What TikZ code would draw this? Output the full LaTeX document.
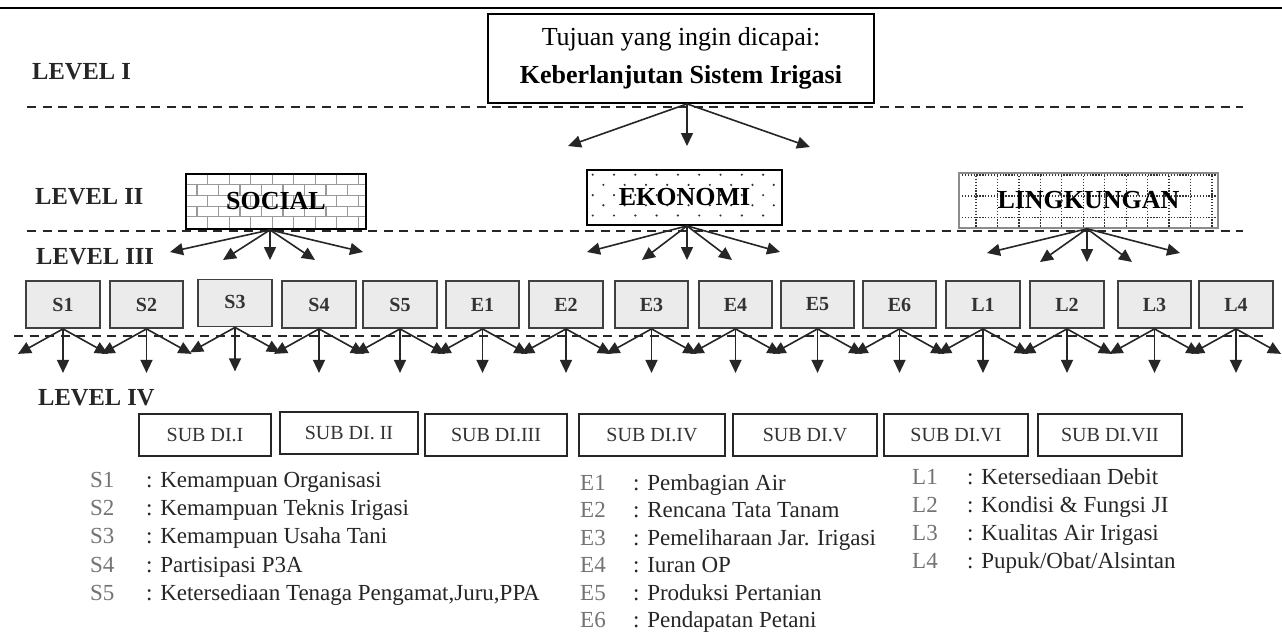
\documentclass[tikz,border=0pt]{standalone}
\usepackage{fontspec}
\setmainfont{Liberation Serif}
\usetikzlibrary{arrows.meta,calc}
\begin{document}
\begin{tikzpicture}[x=1pt,y=-1pt,
  arr/.style={-{Triangle[length=13pt,width=12pt]}, line width=1.6pt, draw=black!85, fill=black!85},
  lvl/.style={anchor=west, font=\fontsize{24.5}{28}\selectfont\bfseries, text=black!85, inner sep=0pt},
  sep/.style={line width=1.8pt, draw=black!85, dash pattern=on 9pt off 6.5pt},
  lvtwo/.style={inner sep=0pt, minimum height=55pt, font=\fontsize{26}{30}\selectfont\bfseries},
  thrbox/.style={draw=black!75, fill=black!8, line width=1.8pt, minimum width=73.5pt, minimum height=47pt, inner sep=0pt, font=\fontsize{20}{24}\selectfont\bfseries, text=black!80},
  subbox/.style={draw=black!85, line width=1.8pt, minimum height=42pt, inner sep=0pt, font=\fontsize{20}{24}\selectfont, text=black!80},
  lgkey/.style={anchor=base west, inner sep=0pt, font=\fontsize{23}{26}\selectfont, text=black!55},
  lgtxt/.style={anchor=base west, inner sep=0pt, font=\fontsize{23}{26}\selectfont, text=black!85}
]
\useasboundingbox (0,0) rectangle (1282,632);
\fill[white] (0,0) rectangle (1282,632);
% top rule
\draw[line width=1.5pt] (0,8) -- (1282,8);

% level labels
\node[lvl] (lv1) at (32,72) {LEVEL I};
\node[lvl] (lv2) at (35,197) {LEVEL II};
\node[lvl] (lv3) at (36,257) {LEVEL III};
\node[lvl] (lv4) at (38,398) {LEVEL IV};

% separators
\draw[sep] (27,107) -- (1243,107);
\draw[sep] (27,231) -- (1243,231);
\draw[sep] (14,336) -- (1265,336);

% goal
\node[draw, line width=1.8pt, fill=white, minimum width=386pt, minimum height=89pt, inner sep=0pt, align=center, font=\fontsize{26}{38}\selectfont] (goal) at (681,58.5) {Tujuan yang ingin dicapai:\\\textbf{Keberlanjutan Sistem Irigasi}};

% ---- patterns of level II boxes ----
% bricks (SOCIAL)
\fill[white] (186,174) rectangle (366,229);
\begin{scope}
\clip (186,174) rectangle (366,229);
\foreach \k in {1,...,4} \draw[black!40, line width=1.1pt] (186,174+10.7*\k) -- (366,174+10.7*\k);
\foreach \k in {0,...,4} {
  \pgfmathsetmacro\off{mod(\k,2)==0 ? 0 : 10.75}
  \foreach \j in {-1,...,8}
    \draw[black!40, line width=1.1pt] (207.7+21.5*\j+\off,174+10.7*\k) -- (207.7+21.5*\j+\off,174+10.7*\k+10.7);
}
\end{scope}
% dots (EKONOMI)
\fill[white] (587,170) rectangle (782,225);
\foreach \k in {0,...,4} {
  \pgfmathsetmacro\off{mod(\k,2)==0 ? 0 : 10.65}
  \foreach \j in {0,...,8}
    \fill[black!80] (592.7+21.3*\j+\off,174.7+10.2*\k) circle (1.2pt);
}
% dotted grid (LINGKUNGAN)
\fill[white] (959,173) rectangle (1218,228);
\foreach \yy in {175,196,217.3} \draw[black!80, line width=1.3pt, dash pattern=on 1.3pt off 1.6pt] (959,\yy) -- (1218,\yy);
\foreach \j in {0,...,11} \draw[black!80, line width=1.3pt, dash pattern=on 1.3pt off 1.6pt] (976+21.45*\j,173) -- (976+21.45*\j,228);

% level II nodes
\node[lvtwo, draw=black, line width=1.8pt, minimum width=180pt] (soc) at (276,201.5) {SOCIAL};
\node[lvtwo, draw=black, line width=1.8pt, minimum width=195pt] (eko) at (684.5,197.5) {EKONOMI};
\node[lvtwo, draw=black!45, line width=1.5pt, minimum width=259pt] (lin) at (1088.5,200.5) {LINGKUNGAN};

% goal arrows
\coordinate (g1) at (568,146);
\coordinate (g2) at (687,146);
\coordinate (g3) at (810,147);
\foreach \t in {g1,g2,g3} \draw[arr] ([xshift=6pt]goal.south) -- (\t);

% level II -> level III arrows
\coordinate (sa) at (170,252); \coordinate (sb) at (223,260); \coordinate (sc) at (270,260); \coordinate (sd) at (315,260); \coordinate (se) at (363,252);
\foreach \t in {sa,sb,sc,sd,se} \draw[arr] ([xshift=-6pt]soc.south) -- (\t);
\coordinate (ea) at (587,252); \coordinate (eb) at (642,260); \coordinate (ec) at (687,260); \coordinate (ed) at (732,260); \coordinate (ee) at (780,252);
\foreach \t in {ea,eb,ec,ed,ee} \draw[arr] ([xshift=2.5pt]eko.south) -- (\t);
\coordinate (la) at (987,253); \coordinate (lb) at (1040,262); \coordinate (lc) at (1087,262); \coordinate (ld) at (1132,262); \coordinate (le) at (1180,253);
\foreach \t in {la,lb,lc,ld,le} \draw[arr] ([xshift=-1.5pt]lin.south) -- (\t);

% level III boxes
\foreach \n/\x in {S1/63,S2/146.5,S4/319,S5/400,E1/482.5,E2/566,E3/651.5,E4/735.5,E5/817.5,E6/899.5,L1/983,L2/1067,L3/1154.5,L4/1236}
  \node[thrbox] (\n) at (\x,304.5) {\n};
\node[thrbox] (S3) at (235,303) {\raisebox{3pt}{S3}};

% level III -> level IV arrows
\foreach \n in {S1,S2,S3,S4,S5,E1,E2,E3,E4,E5,E6,L1,L2,L3,L4} {
  \coordinate (\n-l) at ($(\n.south)+(-45,25)$);
  \coordinate (\n-d) at ($(\n.south)+(0,44)$);
  \coordinate (\n-r) at ($(\n.south)+(45,25)$);
  \draw[arr] (\n.south) -- (\n-l);
  \draw[arr] (\n.south) -- (\n-d);
  \draw[arr] (\n.south) -- (\n-r);
}

% level IV boxes
\node[subbox, minimum width=132pt] (d1) at (205,435) {SUB DI.I};
\node[subbox, minimum width=138pt] (d2) at (349,433) {SUB DI. II};
\node[subbox, minimum width=142pt] (d3) at (496,435) {SUB DI.III};
\node[subbox, minimum width=146pt] (d4) at (652,435) {SUB DI.IV};
\node[subbox, minimum width=144pt] (d5) at (805,435) {SUB DI.V};
\node[subbox, minimum width=144pt] (d6) at (956,435) {SUB DI.VI};
\node[subbox, minimum width=144pt] (d7) at (1110,435) {SUB DI.VII};

% legend S
\node[lgkey] (ks1) at (90,487) {S1}; \node[lgtxt] (ts1) at (146,487) {: Kemampuan Organisasi};
\node[lgkey] (ks2) at (90,515.3) {S2}; \node[lgtxt] (ts2) at (146,515.3) {: Kemampuan Teknis Irigasi};
\node[lgkey] (ks3) at (90,543.7) {S3}; \node[lgtxt] (ts3) at (146,543.7) {: Kemampuan Usaha Tani};
\node[lgkey] (ks4) at (90,572.3) {S4}; \node[lgtxt] (ts4) at (146,572.3) {: Partisipasi P3A};
\node[lgkey] (ks5) at (90,600.3) {S5}; \node[lgtxt] (ts5) at (146,600.3) {: Ketersediaan Tenaga Pengamat,Juru,PPA};
% legend E
\node[lgkey] (ke1) at (580,490) {E1}; \node[lgtxt] (te1) at (633,490) {: Pembagian Air};
\node[lgkey] (ke2) at (580,517.5) {E2}; \node[lgtxt] (te2) at (633,517.5) {: Rencana Tata Tanam};
\node[lgkey] (ke3) at (580,545) {E3}; \node[lgtxt] (te3) at (633,545) {: Pemeliharaan Jar. Irigasi};
\node[lgkey] (ke4) at (580,572.5) {E4}; \node[lgtxt] (te4) at (633,572.5) {: Iuran OP};
\node[lgkey] (ke5) at (580,600) {E5}; \node[lgtxt] (te5) at (633,600) {: Produksi Pertanian};
\node[lgkey] (ke6) at (580,627.5) {E6}; \node[lgtxt] (te6) at (633,627.5) {: Pendapatan Petani};
% legend L
\node[lgkey] (kl1) at (912,484) {L1}; \node[lgtxt] (tl1) at (967,484) {: Ketersediaan Debit};
\node[lgkey] (kl2) at (912,512.3) {L2}; \node[lgtxt] (tl2) at (967,512.3) {: Kondisi \& Fungsi JI};
\node[lgkey] (kl3) at (912,540.6) {L3}; \node[lgtxt] (tl3) at (967,540.6) {: Kualitas Air Irigasi};
\node[lgkey] (kl4) at (912,568.7) {L4}; \node[lgtxt] (tl4) at (967,568.7) {: Pupuk/Obat/Alsintan};
\end{tikzpicture}
\end{document}
